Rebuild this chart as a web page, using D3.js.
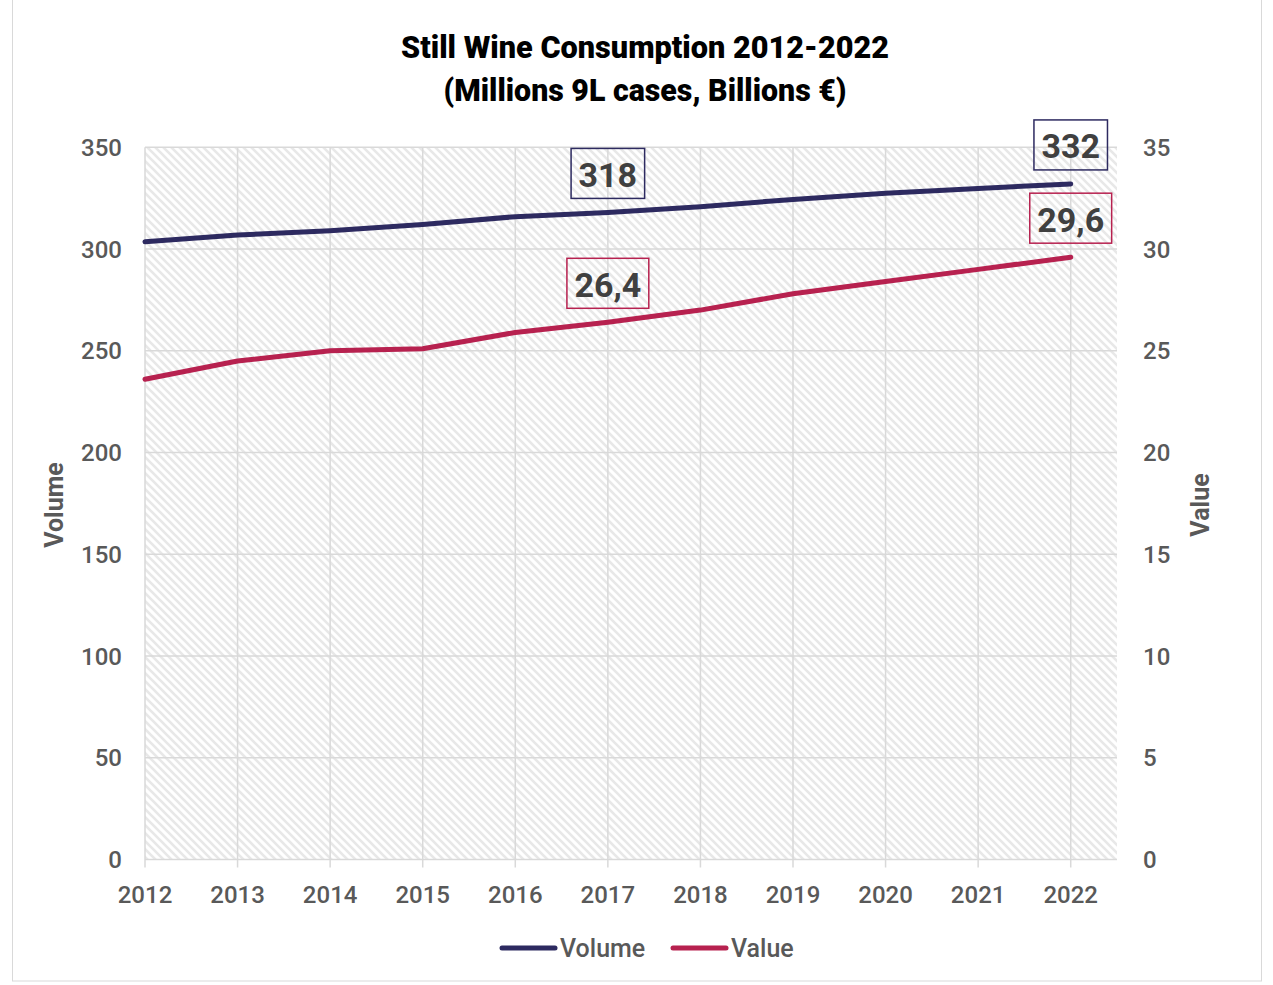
<!DOCTYPE html>
<html>
<head>
<meta charset="utf-8">
<script src="https://cdn.jsdelivr.net/npm/d3@7"></script>
<style>
  html, body { margin: 0; padding: 0; background: #fff; }
  svg { display: block; }
</style>
</head>
<body>
<svg id="chart" width="1273" height="985"></svg>
<script>
// Still wine consumption, 2012-2022
const years = [2012, 2013, 2014, 2015, 2016, 2017, 2018, 2019, 2020, 2021, 2022];
const volume = [303.6, 306.9, 309.0, 312.1, 315.9, 318, 320.8, 324.4, 327.4, 329.8, 332]; // millions of 9L cases
const value = [23.6, 24.5, 25.0, 25.1, 25.9, 26.4, 27.0, 27.8, 28.4, 29.0, 29.6];       // billions €
const leftTicks = [0, 50, 100, 150, 200, 250, 300, 350];
const rightTicks = [0, 5, 10, 15, 20, 25, 30, 35];
const labelled = [
  { series: "volume", year: 2017, text: "318" },
  { series: "volume", year: 2022, text: "332" },
  { series: "value", year: 2017, text: "26,4" },
  { series: "value", year: 2022, text: "29,6" }
];
const titleLines = ["Still Wine Consumption 2012-2022", "(Millions 9L cases, Billions €)"];
const titleWidths = [488, 403];

const colors = { volume: "#2d2a60", value: "#b7214f" };
const gridColor = "#d9d9d9";
const textGray = "#595959";

const svg = d3.select("#chart");
const plot = { left: 145, right: 1117, top: 147.3, bottom: 859.5 };

const x = d3.scaleLinear().domain([2012, 2022.5]).range([plot.left, plot.right]);
const yL = d3.scaleLinear().domain([0, 350]).range([plot.bottom, plot.top]);
const yR = d3.scaleLinear().domain([0, 35]).range([plot.bottom, plot.top]);

// chart area border
svg.append("rect").attr("x", 12.5).attr("y", -1).attr("width", 1249).attr("height", 982)
  .attr("fill", "none").attr("stroke", gridColor).attr("stroke-width", 1);

// diagonal hatch for the plot area
const defs = svg.append("defs");
const pat = defs.append("pattern").attr("id", "hatch").attr("patternUnits", "userSpaceOnUse")
  .attr("width", 8).attr("height", 8);
pat.append("rect").attr("width", 8).attr("height", 8).attr("fill", "#ffffff");
pat.append("path").attr("d", "M-1,-1 L9,9 M-1,7 L1,9 M7,-1 L9,1")
  .attr("stroke", "#e8e8e8").attr("stroke-width", 2.6);

svg.append("rect").attr("x", plot.left).attr("y", plot.top)
  .attr("width", plot.right - plot.left).attr("height", plot.bottom - plot.top)
  .attr("fill", "url(#hatch)");

// horizontal gridlines
svg.append("g").selectAll("line").data(leftTicks).join("line")
  .attr("x1", plot.left).attr("x2", plot.right)
  .attr("y1", d => yL(d)).attr("y2", d => yL(d))
  .attr("stroke", gridColor).attr("stroke-width", 1.5);

// vertical gridlines with tick marks below the axis
svg.append("g").selectAll("line").data(years).join("line")
  .attr("x1", d => x(d)).attr("x2", d => x(d))
  .attr("y1", plot.top).attr("y2", plot.bottom + 8)
  .attr("stroke", gridColor).attr("stroke-width", 1.5);

// tick labels
const tickFont = "Roboto, 'Liberation Sans', sans-serif";
svg.append("g").selectAll("text").data(leftTicks).join("text")
  .attr("x", 122).attr("y", d => yL(d)).attr("dy", "0.36em")
  .attr("text-anchor", "end").attr("font-family", tickFont).attr("font-size", 24)
  .attr("font-weight", 500).attr("fill", textGray).text(d => d);

svg.append("g").selectAll("text").data(rightTicks).join("text")
  .attr("x", 1143).attr("y", d => yR(d)).attr("dy", "0.36em")
  .attr("text-anchor", "start").attr("font-family", tickFont).attr("font-size", 24)
  .attr("font-weight", 500).attr("fill", textGray).text(d => d);

svg.append("g").selectAll("text").data(years).join("text")
  .attr("x", d => x(d)).attr("y", 903)
  .attr("text-anchor", "middle").attr("font-family", tickFont).attr("font-size", 24)
  .attr("font-weight", 500).attr("fill", textGray).text(d => d);

// axis titles
svg.append("text").attr("transform", "translate(63,505) rotate(-90)")
  .attr("text-anchor", "middle").attr("font-family", tickFont).attr("font-weight", "bold")
  .attr("font-size", 25).attr("fill", textGray).text("Volume");
svg.append("text").attr("transform", "translate(1209,505) rotate(-90)")
  .attr("text-anchor", "middle").attr("font-family", tickFont).attr("font-weight", "bold")
  .attr("font-size", 25).attr("fill", textGray).text("Value");

// series lines
const lineL = d3.line().x((d, i) => x(years[i])).y(d => yL(d));
const lineR = d3.line().x((d, i) => x(years[i])).y(d => yR(d));
svg.append("path").datum(volume).attr("d", lineL).attr("fill", "none")
  .attr("stroke", colors.volume).attr("stroke-width", 5)
  .attr("stroke-linecap", "round").attr("stroke-linejoin", "round");
svg.append("path").datum(value).attr("d", lineR).attr("fill", "none")
  .attr("stroke", colors.value).attr("stroke-width", 5)
  .attr("stroke-linecap", "round").attr("stroke-linejoin", "round");

// boxed value labels above selected points
labelled.forEach(l => {
  const i = years.indexOf(l.year);
  const px = x(l.year);
  const py = l.series === "volume" ? yL(volume[i]) : yR(value[i]);
  const boxBottom = py - 14;
  const g = svg.append("g");
  const t = g.append("text").attr("x", px).attr("y", boxBottom - 11.5)
    .attr("text-anchor", "middle").attr("font-family", tickFont).attr("font-weight", "bold")
    .attr("font-size", 34).attr("fill", "#404040").text(l.text);
  const w = t.node().getComputedTextLength() + 15;
  g.insert("rect", "text").attr("x", px - w / 2).attr("y", boxBottom - 50)
    .attr("width", w).attr("height", 50).attr("fill", "none")
    .attr("stroke", colors[l.series]).attr("stroke-width", 1.5);
});

// title
svg.append("g").selectAll("text").data(titleLines).join("text")
  .attr("x", 645).attr("y", (d, i) => 58 + i * 43)
  .attr("text-anchor", "middle")
  .attr("textLength", (d, i) => titleWidths[i]).attr("lengthAdjust", "spacingAndGlyphs")
  .attr("font-family", "Roboto, 'Liberation Sans', sans-serif")
  .attr("font-weight", 900).attr("font-size", 32).attr("fill", "#000")
  .text(d => d);

// legend
const legend = [
  { name: "Volume", color: colors.volume, x0: 502 },
  { name: "Value", color: colors.value, x0: 673 }
];
const lg = svg.append("g").selectAll("g").data(legend).join("g");
lg.append("line").attr("x1", d => d.x0).attr("x2", d => d.x0 + 53)
  .attr("y1", 948).attr("y2", 948).attr("stroke", d => d.color)
  .attr("stroke-width", 5).attr("stroke-linecap", "round");
lg.append("text").attr("x", d => d.x0 + 58).attr("y", 957)
  .attr("font-family", tickFont).attr("font-size", 25).attr("font-weight", 500)
  .attr("fill", textGray).text(d => d.name);
</script>
</body>
</html>
